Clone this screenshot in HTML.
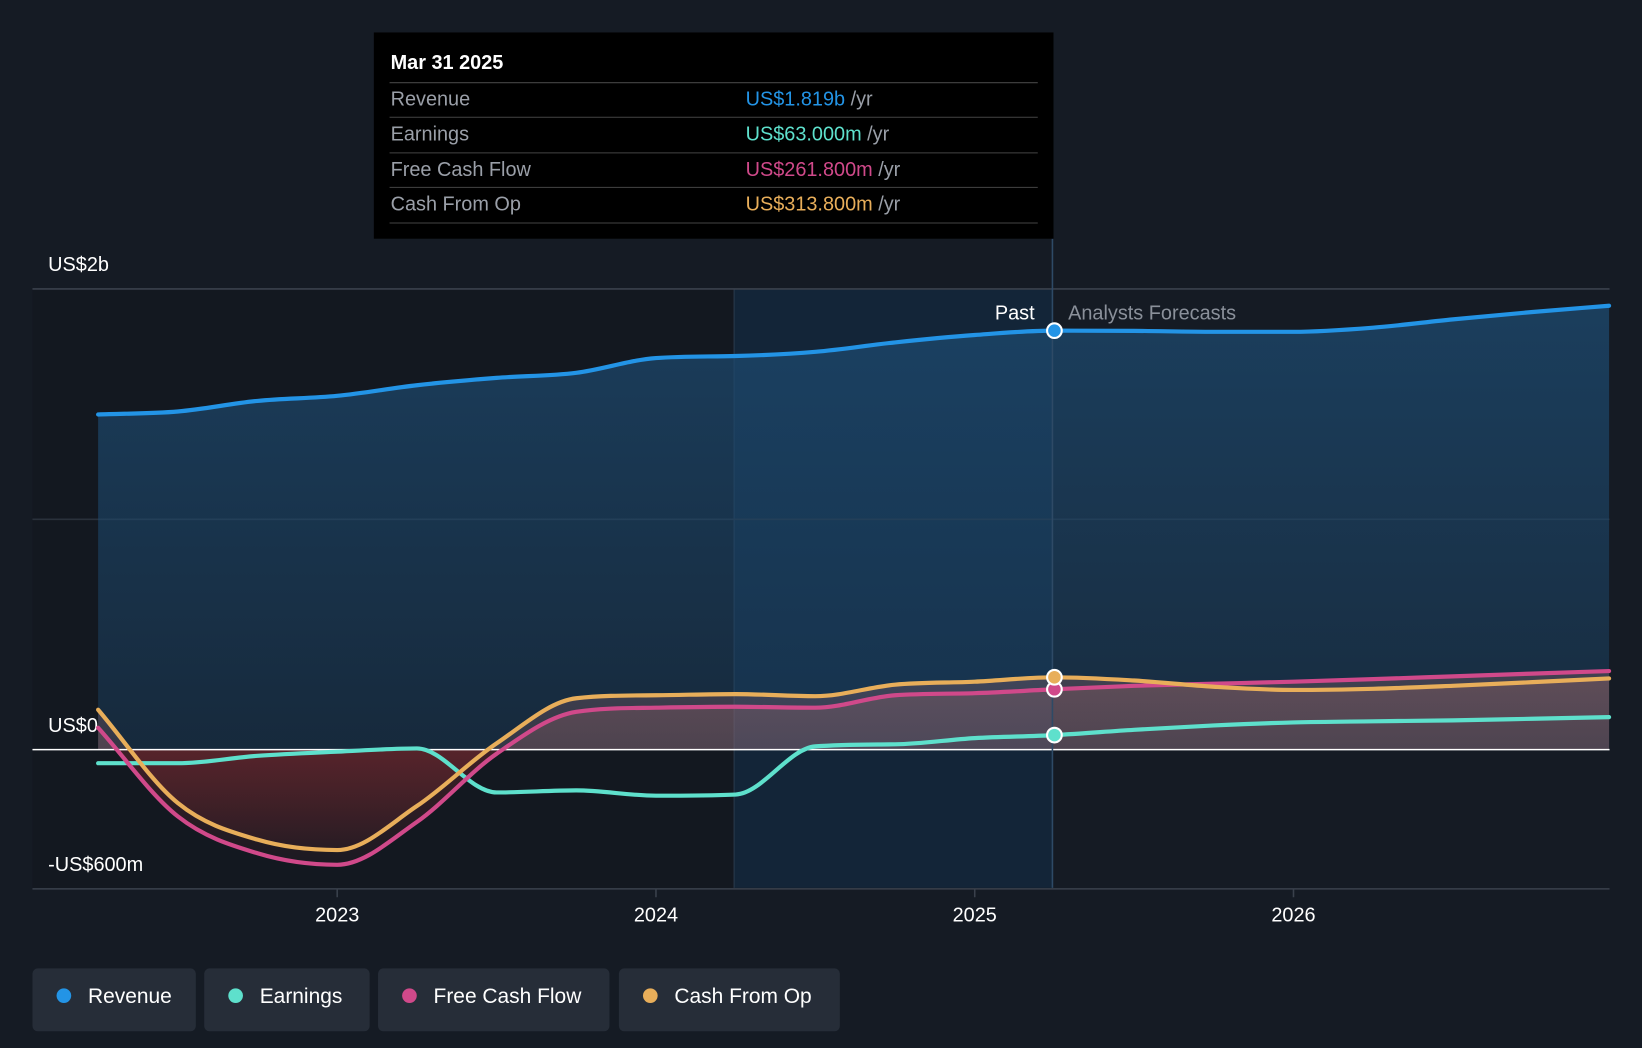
<!DOCTYPE html>
<html><head><meta charset="utf-8"><style>
html,body{margin:0;padding:0;background:#151b24;width:1642px;height:1048px;overflow:hidden}
svg{display:block;font-family:"Liberation Sans",sans-serif}
</style></head><body>
<svg id="chart" width="1642" height="1048" viewBox="0 0 1568 1001" preserveAspectRatio="none" xmlns="http://www.w3.org/2000/svg">
<defs>
<linearGradient id="revG" x1="0" y1="0" x2="0" y2="1"><stop offset="0" stop-color="#1d4a70" stop-opacity="0.75"/><stop offset="1" stop-color="#1d4a70" stop-opacity="0.35"/></linearGradient>
<linearGradient id="negG" x1="0" y1="0" x2="0" y2="1"><stop offset="0" stop-color="#7a2a30" stop-opacity="0.8"/><stop offset="1" stop-color="#7a2a30" stop-opacity="0.1"/></linearGradient>
<linearGradient id="posG" x1="0" y1="0" x2="0" y2="1"><stop offset="0" stop-color="#b07070" stop-opacity="0.45"/><stop offset="1" stop-color="#b07070" stop-opacity="0.15"/></linearGradient>
<clipPath id="neg"><rect x="0" y="716" width="1568" height="300"/></clipPath>
<clipPath id="pos"><rect x="0" y="0" width="1568" height="716"/></clipPath>
</defs>
<rect x="0" y="0" width="1568" height="1001" fill="#151b24"/>
<rect x="31" y="276" width="670" height="572" fill="#131820"/>
<rect x="701" y="276" width="304" height="572" fill="#13283d" opacity="0.8"/>
<line x1="701" y1="276" x2="701" y2="848" stroke="#2a3a4c" stroke-width="1"/>
<g id="grid"></g>
<g id="areas"></g>
<g id="lines"></g>
<line x1="1005" y1="228" x2="1005" y2="848" stroke="#2e4a66" stroke-width="1.5"/>
<text x="988" y="305" fill="#ffffff" font-size="19" text-anchor="end">Past</text>
<text x="1020" y="305" fill="#8a909a" font-size="19">Analysts Forecasts</text>
<g id="dots"></g>
<g id="xaxis"></g>
<g>
<rect x="357" y="31" width="649" height="197" fill="#000"/>
<text x="373" y="66" fill="#fff" font-size="19" font-weight="bold">Mar 31 2025</text>
<line x1="372" y1="79" x2="991" y2="79" stroke="#444" /><line x1="372" y1="112" x2="991" y2="112" stroke="#444"/>
<line x1="372" y1="146" x2="991" y2="146" stroke="#444"/><line x1="372" y1="179" x2="991" y2="179" stroke="#444"/><line x1="372" y1="213" x2="991" y2="213" stroke="#444"/>
<text x="373" y="101" fill="#9a9fa8" font-size="19">Revenue</text>
<text x="373" y="134" fill="#9a9fa8" font-size="19">Earnings</text>
<text x="373" y="168" fill="#9a9fa8" font-size="19">Free Cash Flow</text>
<text x="373" y="201" fill="#9a9fa8" font-size="19">Cash From Op</text>
<text x="712" y="101" font-size="19"><tspan fill="#2394e6">US$1.819b</tspan><tspan fill="#9a9fa8"> /yr</tspan></text>
<text x="712" y="134" font-size="19"><tspan fill="#5ee0cc">US$63.000m</tspan><tspan fill="#9a9fa8"> /yr</tspan></text>
<text x="712" y="168" font-size="19"><tspan fill="#d0498a">US$261.800m</tspan><tspan fill="#9a9fa8"> /yr</tspan></text>
<text x="712" y="201" font-size="19"><tspan fill="#e8ae5a">US$313.800m</tspan><tspan fill="#9a9fa8"> /yr</tspan></text>
</g>
<g id="legend"></g>
</svg>
<script>
const xYears=[2022.25,2022.5,2022.75,2023,2023.25,2023.5,2023.75,2024,2024.25,2024.5,2024.75,2025,2025.25,2025.5,2025.75,2026,2026.25,2026.5,2026.75,2026.99];
const revenue=[1455,1468,1514,1536,1582,1614,1636,1700,1709,1727,1768,1800,1819,1818,1814,1814,1832,1868,1900,1927];
const earnings=[-59,-59,-27,-9,5,-186,-177,-200,-195,14,23,50,63,86,105,118,123,127,134,141];
const fcf=[95,-290,-450,-500,-314,-18,164,182,186,182,236,245,262,277,286,295,306,318,330,341];
const cfo=[173,-232,-391,-436,-245,27,223,236,241,232,282,295,314,300,273,259,264,277,293,309];
const yTicks=[2000,0,-600];
const yTickLabels=["US$2b","US$0","-US$600m"];
const xTicks=[2023,2024,2025,2026];
const NS="http://www.w3.org/2000/svg";
const X=y=>322+(y-2023)*304.4;
const Y=v=>716-v*0.22;
function el(tag,attrs,parent){const e=document.createElementNS(NS,tag);for(const k in attrs)e.setAttribute(k,attrs[k]);parent.appendChild(e);return e;}
function pathD(vals){const p=xYears.map((x,i)=>[X(x),Y(vals[i])]);const n=p.length;
const d=[],m=[];for(let i=0;i<n-1;i++)d.push((p[i+1][1]-p[i][1])/(p[i+1][0]-p[i][0]));
m[0]=d[0];m[n-1]=d[n-2];for(let i=1;i<n-1;i++){m[i]=(d[i-1]*d[i]<=0)?0:(d[i-1]+d[i])/2;}
for(let i=0;i<n-1;i++){if(d[i]===0){m[i]=0;m[i+1]=0;continue;}const a=m[i]/d[i],b=m[i+1]/d[i],s=a*a+b*b;if(s>9){const t=3/Math.sqrt(s);m[i]=t*a*d[i];m[i+1]=t*b*d[i];}}
let s=`M${p[0][0]},${p[0][1]}`;
for(let i=0;i<n-1;i++){const h=(p[i+1][0]-p[i][0])/3;
s+=`C${p[i][0]+h},${p[i][1]+m[i]*h} ${p[i+1][0]-h},${p[i+1][1]-m[i+1]*h} ${p[i+1][0]},${p[i+1][1]}`;}return s;}
const grid=document.getElementById('grid');
[2000,1000].forEach(v=>{const l=el('line',{x1:31,x2:1537,y1:Y(v),y2:Y(v),stroke:v==2000?'#3a414c':'#2a313b','stroke-width':1.5},grid);

});
yTicks.forEach((v,i)=>{const t=el('text',{x:46,y:Y(v)+(v==-600?-16:-17),fill:'#fff','font-size':19},grid);t.textContent=yTickLabels[i];

});
const areas=document.getElementById('areas'),lines=document.getElementById('lines'),dots=document.getElementById('dots');
const x0=X(xYears[0]),xN=X(xYears[xYears.length-1]),z=Y(0);
const ra=el('path',{d:pathD(revenue)+`L${xN},${z}L${x0},${z}Z`,fill:'url(#revG)'},areas);


[cfo,fcf].forEach(s=>{const d=pathD(s)+`L${xN},${z}L${x0},${z}Z`;
const a=el('path',{d,fill:'url(#negG)','clip-path':'url(#neg)',opacity:0.8},areas);


const b=el('path',{d,fill:'url(#posG)','clip-path':'url(#pos)',opacity:0.6},areas);

});
const zl=el('line',{x1:31,x2:1537,y1:z,y2:z,stroke:'#ffffff','stroke-width':1.5},areas);


const series=[[earnings,'#5ee0cc','earnings'],[fcf,'#d0498a','free-cash-flow'],[cfo,'#e8ae5a','cash-from-op'],[revenue,'#2394e6','revenue']];
series.forEach(([s,c,n])=>{const l=el('path',{d:pathD(s),fill:'none',stroke:c,'stroke-width':4,'stroke-linecap':'round'},lines);


const i=xYears.indexOf(2025.25);
const d=el('circle',{cx:X(2025.25),cy:Y(s[i]),r:7,fill:c,stroke:'#fff','stroke-width':2},dots);

});
const xa=document.getElementById('xaxis');
el('line',{x1:31,x2:1537,y1:849,y2:849,stroke:'#3a414c','stroke-width':1.5},xa);
xTicks.forEach(t=>{el('line',{x1:X(t),x2:X(t),y1:849,y2:857,stroke:'#3a414c','stroke-width':1.5},xa);
const tx=el('text',{x:X(t),y:880,fill:'#fff','font-size':19,'text-anchor':'middle'},xa);tx.textContent=t;

});
const lg=document.getElementById('legend');
const legendItems=[['Revenue','#2394e6',31,156],['Earnings','#5ee0cc',195,158],['Free Cash Flow','#d0498a',361,221],['Cash From Op','#e8ae5a',591,211]];
legendItems.forEach(([t,c,x,w])=>{const g=el('g',{},lg);


el('rect',{x,y:925,width:w,height:60,rx:5,fill:'#262d38'},g);
el('circle',{cx:x+30,cy:951,r:7,fill:c},g);
const tt=el('text',{x:x+53,y:958,fill:'#fff','font-size':20},g);tt.textContent=t;});
</script>
</body></html>
